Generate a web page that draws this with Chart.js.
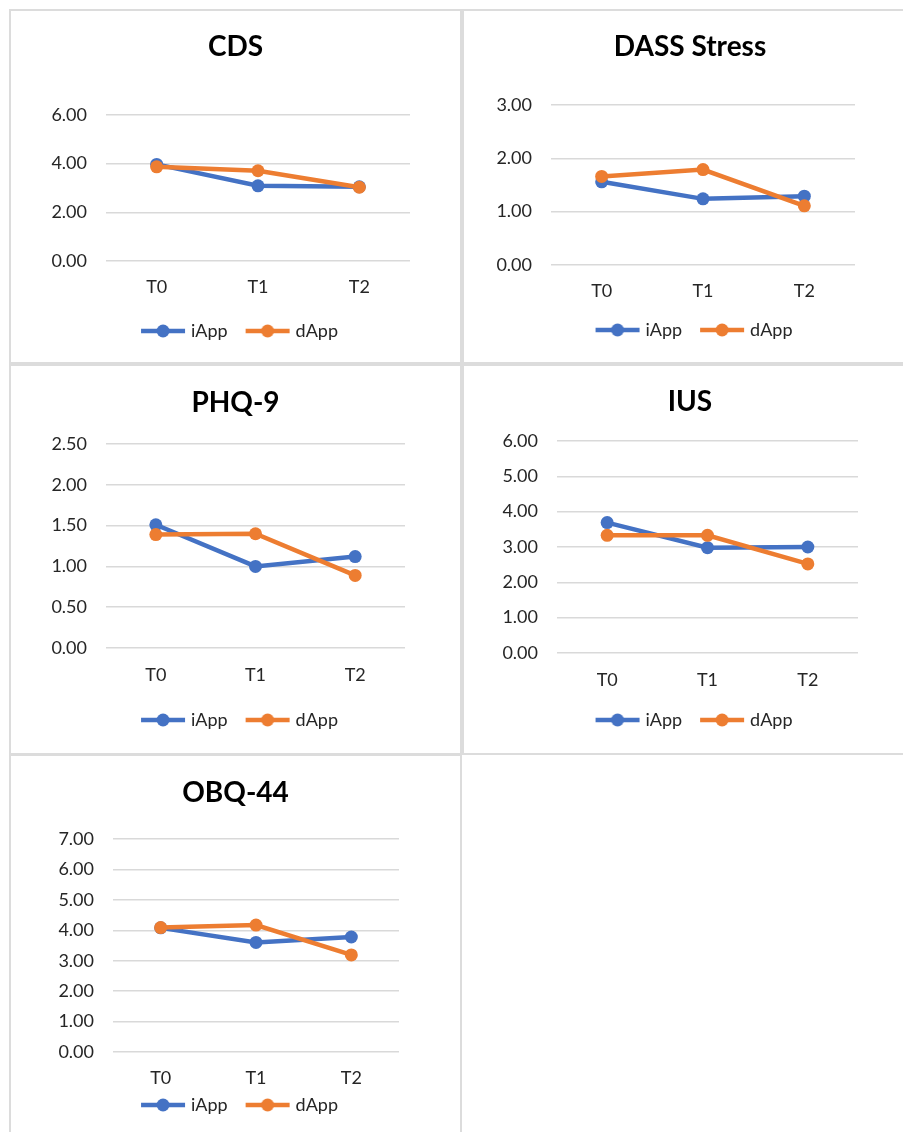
<!DOCTYPE html>
<html>
<head>
<meta charset="utf-8">
<script src="https://cdn.jsdelivr.net/npm/chart.js@4.4.1/dist/chart.umd.min.js"></script>
<style>
    html, body { margin: 0; padding: 0; background: #fff; overflow: hidden; }
    body { width: 903px; height: 1132px; position: relative; }
    .panel { position: absolute; box-sizing: border-box; border: 2px solid #dcdcdc; background: #fff; }
    .panel canvas { position: absolute; left: 0; top: 0; }
</style>
</head>
<body>
<div id="graph-container"></div>
<script>
// time points
const categories = ['T0', 'T1', 'T2']
const series_names = ['iApp', 'dApp']

// values, one pair of arrays per chart
const cds_iApp = [3.97, 3.09, 3.05]
const cds_dApp = [3.87, 3.71, 3.03]

const dass_iApp = [1.56, 1.24, 1.29]
const dass_dApp = [1.66, 1.79, 1.11]

const phq_iApp = [1.51, 1.00, 1.12]
const phq_dApp = [1.39, 1.40, 0.89]

const ius_iApp = [3.69, 2.98, 3.00]
const ius_dApp = [3.33, 3.33, 2.52]

const obq_iApp = [4.08, 3.60, 3.78]
const obq_dApp = [4.09, 4.17, 3.19]

// y axis ticks: max and step for each chart
const titles = ['CDS', 'DASS Stress', 'PHQ-9', 'IUS', 'OBQ-44']
const y_max = [6, 3, 2.5, 6, 7]
const y_step = [2, 1, 0.5, 1, 1]

const COLORS = ['#4472C4', '#ED7D31']
const FONT = 'Lato, "Open Sans", "Liberation Sans", sans-serif'
const TEXT_COLOR = '#262626'

// panel boxes (page px) and where plot area / title / labels / legend sit (page px)
// right-hand panels run past the page edge, as in the original
const panels = [
    { box: [9, 9, 453, 355], plot: [106, 115, 410, 261], title: 47, xlab: 287, legend: 331, data: [cds_iApp, cds_dApp] },
    { box: [462, 9, 456, 355], plot: [551, 105, 855, 265], title: 47, xlab: 291, legend: 330, data: [dass_iApp, dass_dApp] },
    { box: [9, 364, 453, 391], plot: [106, 444, 405, 648], title: 403, xlab: 675, legend: 720, data: [phq_iApp, phq_dApp] },
    { box: [462, 364, 456, 391], plot: [557, 441, 858, 653], title: 402, xlab: 680, legend: 720, data: [ius_iApp, ius_dApp] },
    { box: [9, 754, 453, 390], plot: [113, 839, 399, 1052], title: 793, xlab: 1078, legend: 1105, data: [obq_iApp, obq_dApp] },
]

const BORDER = 2
const TITLE_SIZE = 28
const TICK_SIZE = 18
const LEGEND_PAD = 10
const BOX_W = 49

// line-with-dot picture used as legend symbol (symbol sits 11..57 in a 57px image)
const legendSymbol = (color) => {
    let c = document.createElement('canvas')
    c.width = 57
    c.height = 14
    let g = c.getContext('2d')
    g.strokeStyle = color
    g.lineWidth = 4.5
    g.beginPath()
    g.moveTo(12, 7)
    g.lineTo(56, 7)
    g.stroke()
    g.fillStyle = color
    g.beginPath()
    g.arc(34, 7, 6.5, 0, Math.PI * 2)
    g.fill()
    return c
}

const main = function() {
    let graph_container = document.querySelector('#graph-container')

    for (let idx in panels) {
        let p = panels[idx]
        let [bx, by, bw, bh] = p.box
        let [l, t, r, b] = p.plot

        let div = document.createElement('div')
        div.className = 'panel'
        div.style.left = bx + 'px'
        div.style.top = by + 'px'
        div.style.width = bw + 'px'
        div.style.height = bh + 'px'
        graph_container.appendChild(div)

        // canvas sits inside the border
        let ox = bx + BORDER
        let oy = by + BORDER
        let cw = bw - 2 * BORDER
        let ch = bh - 2 * BORDER
        let canvas = document.createElement('canvas')
        canvas.width = cw
        canvas.height = ch
        canvas.style.width = cw + 'px'
        canvas.style.height = ch + 'px'
        div.appendChild(canvas)

        let titleH = TITLE_SIZE * 1.2
        let titlePadTop = p.title - oy - titleH / 2
        let titlePadBottom = t - p.title - titleH / 2

        let legendTop = p.legend - oy - LEGEND_PAD - TICK_SIZE / 2
        let legendH = TICK_SIZE + LEGEND_PAD + 10
        let xAxisH = legendTop - (b - oy)
        let xTickPad = p.xlab - b - TICK_SIZE * 1.2 / 2

        let datasets = series_names.map((name, i) => {
            return {
                label: name,
                data: p.data[i],
                borderColor: COLORS[i],
                backgroundColor: COLORS[i],
                borderWidth: 4.5,
                pointRadius: 6.5,
                pointHoverRadius: 6.5,
                pointBorderWidth: 0,
                pointStyle: 'circle',
                tension: 0,
                order: 1 - i
            }
        })

        const config = {
            type: 'line',
            data: {
                labels: categories,
                datasets: datasets
            },
            options: {
                responsive: false,
                animation: false,
                devicePixelRatio: 1,
                layout: {
                    padding: { left: 0, top: 0, right: 0, bottom: ch - legendTop - legendH }
                },
                plugins: {
                    title: {
                        display: true,
                        text: titles[idx],
                        color: '#000',
                        font: { family: FONT, size: TITLE_SIZE, weight: 'bold' },
                        padding: { top: titlePadTop, bottom: titlePadBottom }
                    },
                    legend: {
                        position: 'bottom',
                        labels: {
                            usePointStyle: true,
                            pointStyleWidth: BOX_W,
                            padding: LEGEND_PAD,
                            color: TEXT_COLOR,
                            font: { family: FONT, size: TICK_SIZE },
                            generateLabels: (chart) => {
                                return chart.data.datasets.map((ds, i) => {
                                    return {
                                        text: ds.label,
                                        fillStyle: ds.borderColor,
                                        strokeStyle: ds.borderColor,
                                        fontColor: TEXT_COLOR,
                                        lineWidth: 0,
                                        pointStyle: legendSymbol(ds.borderColor),
                                        datasetIndex: i,
                                        hidden: false
                                    }
                                })
                            }
                        }
                    },
                    tooltip: { enabled: false }
                },
                scales: {
                    x: {
                        offset: true,
                        grid: { display: false, drawTicks: false },
                        border: { display: false },
                        ticks: {
                            color: TEXT_COLOR,
                            padding: xTickPad,
                            font: { family: FONT, size: TICK_SIZE }
                        },
                        afterFit: (scale) => { scale.height = xAxisH }
                    },
                    y: {
                        min: 0,
                        max: y_max[idx],
                        grid: { color: '#d9d9d9', lineWidth: 1.5, drawTicks: false },
                        border: { display: false },
                        ticks: {
                            stepSize: y_step[idx],
                            color: TEXT_COLOR,
                            padding: 19,
                            font: { family: FONT, size: TICK_SIZE },
                            callback: (val) => Number(val).toFixed(2)
                        },
                        afterFit: (scale) => { scale.width = l - ox }
                    },
                    // empty right-hand axis, only to keep the plot narrower than the panel
                    yRight: {
                        type: 'linear',
                        position: 'right',
                        grid: { display: false, drawTicks: false },
                        border: { display: false },
                        ticks: { display: false },
                        afterFit: (scale) => { scale.width = ox + cw - r }
                    }
                }
            }
        }
        new Chart(canvas.getContext('2d'), config)
    }
}

main()
</script>
</body>
</html>
